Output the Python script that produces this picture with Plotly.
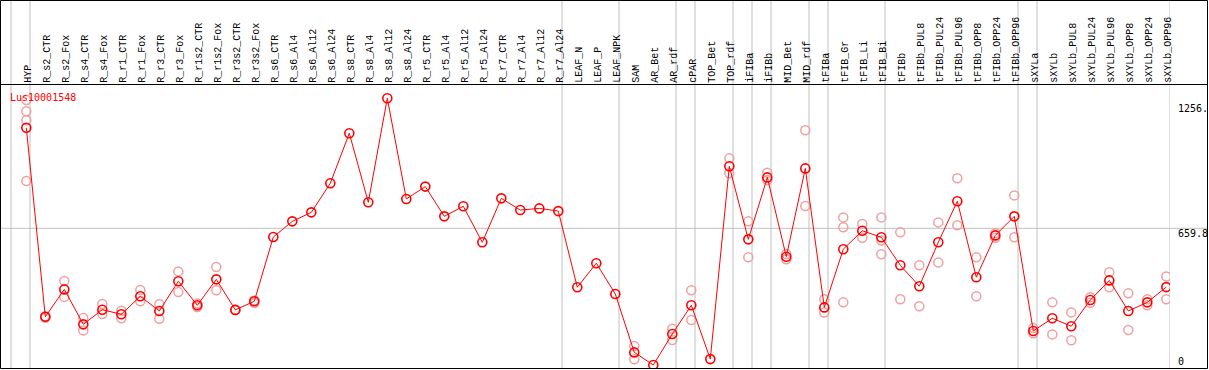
import plotly.graph_objects as go

gene = "Lus10001548"

categories = [
    "HYP", "R_s2_CTR", "R_s2_Fox", "R_s4_CTR", "R_s4_Fox", "R_r1_CTR", "R_r1_Fox",
    "R_r3_CTR", "R_r3_Fox", "R_r1s2_CTR", "R_r1s2_Fox", "R_r3s2_CTR", "R_r3s2_Fox",
    "R_s6_CTR", "R_s6_Al4", "R_s6_Al12", "R_s6_Al24", "R_s8_CTR", "R_s8_Al4",
    "R_s8_Al12", "R_s8_Al24", "R_r5_CTR", "R_r5_Al4", "R_r5_Al12", "R_r5_Al24",
    "R_r7_CTR", "R_r7_Al4", "R_r7_Al12", "R_r7_Al24", "LEAF_N", "LEAF_P", "LEAF_NPK",
    "SAM", "AR_Bet", "AR_rdf", "cPAR", "TOP_Bet", "TOP_rdf", "iFIBa", "iFIBb",
    "MID_Bet", "MID_rdf", "tFIBa", "tFIB_Gr", "tFIB_Li", "tFIB_Bi", "tFIBb",
    "tFIBb_PUL8", "tFIBb_PUL24", "tFIBb_PUL96", "tFIBb_OPP8", "tFIBb_OPP24",
    "tFIBb_OPP96", "sXYLa", "sXYLb", "sXYLb_PUL8", "sXYLb_PUL24", "sXYLb_PUL96",
    "sXYLb_OPP8", "sXYLb_OPP24", "sXYLb_OPP96",
]

mean_values = [
    1140, 237, 368, 201, 271, 249, 335, 265, 407, 292, 416, 270, 311,
    618, 693, 736, 875, 1114, 784, 1281, 800, 859, 717, 765, 593,
    803, 747, 755, 742, 378, 493, 346,
    67, 7, 155, 292, 35, 956, 607, 903, 524, 946,
    282, 560, 648, 617, 483, 383, 593, 789, 426, 626, 717,
    169, 230, 192, 317, 411, 265, 306, 379,
]

replicate_values = [
    [1273, 1219, 1176, 886], [240, 232], [408, 332], [231, 172], [298, 250],
    [266, 230], [365, 311], [297, 228], [454, 355], [300, 284], [475, 364],
    [269, 271], [303, 315],
    [], [], [], [], [], [], [], [], [], [], [], [], [], [], [], [],
    [], [], [],
    [97, 34], [], [180, 126], [364, 222], [], [994, 923], [693, 521], [925, 891],
    [537, 512], [1128, 766],
    [321, 257], [712, 665, 306], [680, 615], [712, 601, 536], [641, 321],
    [483, 287], [688, 497], [899, 674], [521, 335], [636, 615], [817, 617],
    [183, 158], [306, 153], [258, 125], [330, 304], [450, 378], [349, 174],
    [321, 292], [430, 321],
]

group_ends = [-1, 0, 28, 31, 34, 35, 37, 38, 39, 41, 42, 45, 52, 53, 60]

y_ticks = [0, 659.8, 1256]
y_tick_text = ["0", "659.8", "1256."]

W, H = 1209, 370
ML, MR, MT, MB = 1, 39, 85, 1
PW, PH = W - ML - MR, H - MT - MB


def px_x(px):
    return (px - ML) / PW


def px_y(px):
    return (H - MB - px) / PH


idx = list(range(len(categories)))

rep_x, rep_y = [], []
for i, reps in enumerate(replicate_values):
    for v in reps:
        rep_x.append(i)
        rep_y.append(v)

fig = go.Figure()
fig.add_trace(go.Scatter(
    x=rep_x, y=rep_y, mode="markers",
    marker=dict(symbol="circle-open", size=9, color="#f0a0a0", line=dict(width=1.5, color="#f0a0a0")),
    hoverinfo="skip", showlegend=False,
))
fig.add_trace(go.Scatter(
    x=idx, y=mean_values, mode="lines+markers",
    line=dict(color="#ff0000", width=1),
    marker=dict(symbol="circle-open", size=9, color="#ff0000", line=dict(width=1.6, color="#ff0000")),
    text=categories, showlegend=False,
))

shapes = []
for g in group_ends:
    shapes.append(dict(type="line", xref="x", yref="paper", x0=g + 0.195, x1=g + 0.195,
                       y0=px_y(369), y1=px_y(0), line=dict(color="#c0c0c0", width=1), layer="below"))
shapes.append(dict(type="line", xref="paper", yref="y", x0=px_x(0), x1=px_x(1207),
                   y0=y_ticks[1], y1=y_ticks[1], line=dict(color="#c0c0c0", width=1), layer="below"))
# frame
shapes.append(dict(type="rect", xref="paper", yref="paper", x0=px_x(0.5), x1=px_x(1207.5),
                   y0=px_y(368.5), y1=px_y(0.5), line=dict(color="black", width=1)))
shapes.append(dict(type="line", xref="paper", yref="paper", x0=px_x(0.5), x1=px_x(1207.5),
                   y0=px_y(84.5), y1=px_y(84.5), line=dict(color="black", width=1)))

annotations = []
for i, c in enumerate(categories):
    annotations.append(dict(x=i, y=px_y(83.5), xref="x", yref="paper", text=c, textangle=-90,
                            showarrow=False, xanchor="center", yanchor="bottom", xshift=2,
                            borderpad=0, font=dict(family="Liberation Mono", size=10, color="black")))
annotations.append(dict(x=px_x(9), y=px_y(97), xref="paper", yref="paper", text=gene,
                        showarrow=False, xanchor="left", yanchor="middle", borderpad=0,
                        font=dict(family="DejaVu Sans Mono", size=10, color="#ff0000")))
shifts = [4.5, -5, -5]
for v, t, s in zip(y_ticks, y_tick_text, shifts):
    annotations.append(dict(x=px_x(1177), y=v, xref="paper", yref="y", text=t, showarrow=False,
                            xanchor="left", yanchor="middle", yshift=s, borderpad=0,
                            font=dict(family="DejaVu Sans Mono", size=10, color="black")))

fig.update_layout(
    width=W, height=H, margin=dict(l=ML, r=MR, t=MT, b=MB, pad=0),
    paper_bgcolor="white", plot_bgcolor="white",
    xaxis=dict(range=[-1.332, 60.195], showgrid=False, zeroline=False, showticklabels=False,
               showline=False, fixedrange=True),
    yaxis=dict(range=[-12.42, 1344.5], showgrid=False, zeroline=False, showticklabels=False,
               showline=False, fixedrange=True),
    shapes=shapes, annotations=annotations,
)

fig.write_html(
    "out.html",
    config={"displayModeBar": False},
    post_script="document.body.style.margin='0';document.body.style.overflow='hidden';",
)
